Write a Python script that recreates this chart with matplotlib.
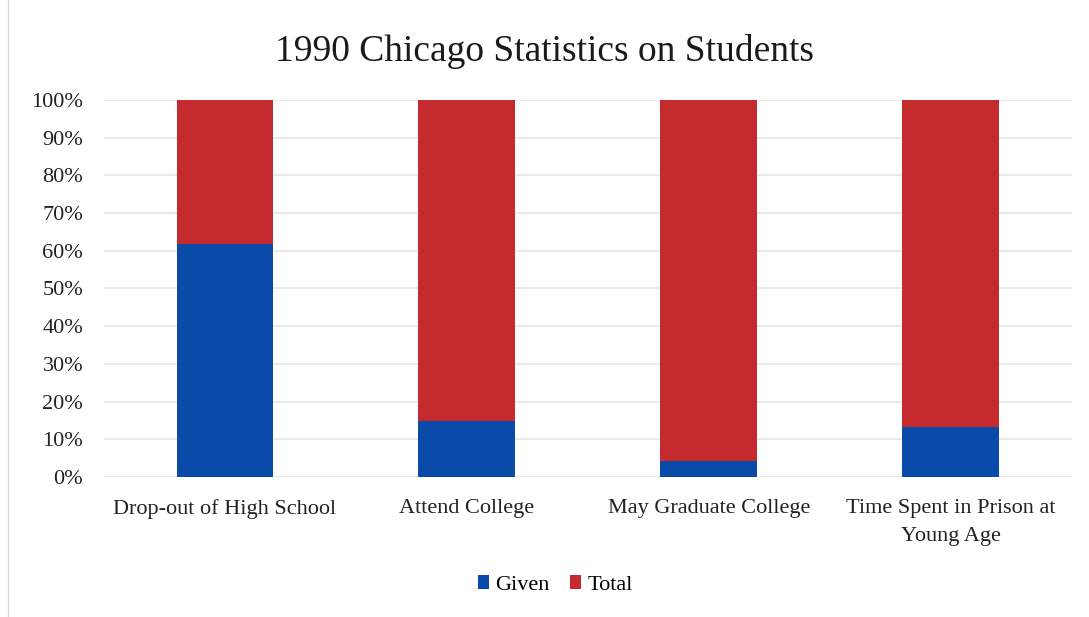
import matplotlib.pyplot as plt
import numpy as np
from matplotlib.patches import Rectangle

categories = ['Drop-out of High School', 'Attend College',
              'May Graduate College', 'Time Spent in Prison at\nYoung Age']
given = [61.8, 14.8, 4.2, 13.3]
total = [38.2, 85.2, 95.8, 86.7]

plt.rcParams['font.family'] = ['Liberation Serif', 'DejaVu Serif']

fig = plt.figure(figsize=(10.89, 6.17), dpi=100)
ax = fig.add_axes([0.0955, 0.2269, 0.8885, 0.6111])

x = np.arange(len(categories))
width = 0.4
ax.bar(x, given, width, color='#0a4aa8', label='Given', zorder=3)
ax.bar(x, total, width, bottom=given, color='#c42a2e', label='Total', zorder=3)

ax.set_xlim(-0.5, len(categories) - 0.5)
ax.set_ylim(0, 100)
ax.set_yticks(np.arange(0, 101, 10))
ax.set_yticklabels([f'{v}%' for v in range(0, 101, 10)])
ax.set_xticks(x, categories)
for lbl in ax.get_xticklabels():
    lbl.set_linespacing(1.65)
ax.yaxis.grid(True, color='#e6e6e6', linewidth=1.2, zorder=0)
ax.tick_params(axis='both', length=0, labelsize=16, colors='#222222')
ax.tick_params(axis='x', pad=16)
ax.tick_params(axis='y', pad=15)
for s in ax.spines.values():
    s.set_visible(False)

fig.suptitle('1990 Chicago Statistics on Students', fontsize=27, y=0.945, color='#1a1a1a')

fig.legend(loc='lower center', bbox_to_anchor=(0.51, 0.003), ncols=2, frameon=False,
           fontsize=16, handlelength=0.5, handleheight=0.6, handletextpad=0.3,
           columnspacing=0.9)

# faint chart border
fig.patches.append(Rectangle((0.007, -0.01), 1.0, 1.02, transform=fig.transFigure,
                             fill=False, edgecolor='#d8d8d8', linewidth=1))

fig.savefig('out.png', dpi=100)
